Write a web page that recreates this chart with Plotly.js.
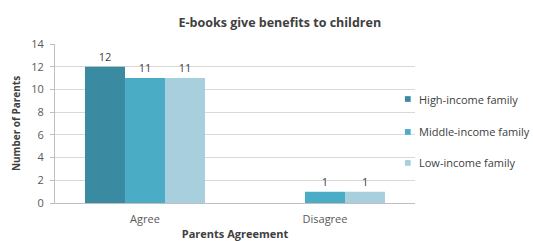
<!DOCTYPE html>
<html>
<head>
<meta charset="utf-8">
<script src="https://cdn.plot.ly/plotly-3.0.1.min.js"></script>
<style>html,body{margin:0;padding:0;background:#fff;}#chart{width:533px;height:241px;}</style>
</head>
<body>
<div id="chart"></div>
<script>
const categories = ["Agree", "Disagree"];
const seriesNames = ["High-income family", "Middle-income family", "Low-income family"];
const highIncome = [12, 0];
const middleIncome = [11, 1];
const lowIncome = [11, 1];
const yTicks = [0, 2, 4, 6, 8, 10, 12, 14];

const colors = ["#3a8aa1", "#4bacc6", "#a8cfdd"];
const values = [highIncome, middleIncome, lowIncome];

const traces = values.map((v, i) => ({
  type: "bar",
  name: seriesNames[i],
  x: categories,
  y: v,
  marker: {color: colors[i]},
  text: v.map(d => d === 0 ? "" : String(d)),
  textposition: "outside",
  cliponaxis: false,
  textfont: {family: "Open Sans, sans-serif", size: 11, color: "#404040"},
  hoverinfo: "none",
  showlegend: false
}));

// legend drawn as paper-positioned swatches + labels
const legendY = [0.654, 0.447, 0.252];
const shapes = seriesNames.map((n, i) => ({
  type: "rect", xref: "paper", yref: "paper",
  x0: 0.972, x1: 0.988,
  y0: legendY[i] - 0.018, y1: legendY[i] + 0.018,
  fillcolor: colors[i], line: {width: 0}
}));
const annotations = seriesNames.map((n, i) => ({
  xref: "paper", yref: "paper", x: 1.005, y: legendY[i],
  xanchor: "left", yanchor: "middle", showarrow: false,
  text: n, font: {family: "Open Sans, sans-serif", size: 11, color: "#404040"}
}));

const layout = {
  width: 533, height: 241,
  margin: {l: 55, r: 118, t: 44, b: 38},
  paper_bgcolor: "#fff", plot_bgcolor: "#fff",
  barmode: "group",
  bargap: 0.333, bargroupgap: 0,
  font: {family: "Open Sans, sans-serif", color: "#595959", size: 11},
  title: {
    text: "<b>E-books give benefits to children</b>",
    font: {family: "Open Sans, sans-serif", size: 12.5, color: "#404040"},
    x: 0.525, xanchor: "center", y: 0.905, yanchor: "middle"
  },
  xaxis: {
    showgrid: false, showline: true, linecolor: "#bfbfbf", linewidth: 1,
    ticks: "", ticklabelstandoff: 6, tickfont: {size: 11, color: "#595959"},
    title: {text: "<b>Parents Agreement</b>", font: {size: 11, color: "#404040"}, standoff: 8}
  },
  yaxis: {
    range: [0, 14], tickvals: yTicks, showgrid: true, gridcolor: "#d9d9d9",
    zeroline: false, showline: true, linecolor: "#bfbfbf",
    ticks: "outside", ticklen: 4, tickcolor: "#bfbfbf",
    ticklabelstandoff: 4,
    tickfont: {size: 11, color: "#595959"},
    title: {text: "<b>Number of Parents</b>", font: {size: 10, color: "#404040"}, standoff: 8}
  },
  shapes: shapes,
  annotations: annotations,
  showlegend: false
};

Plotly.newPlot("chart", traces, layout, {staticPlot: true, displayModeBar: false});
</script>
</body>
</html>
